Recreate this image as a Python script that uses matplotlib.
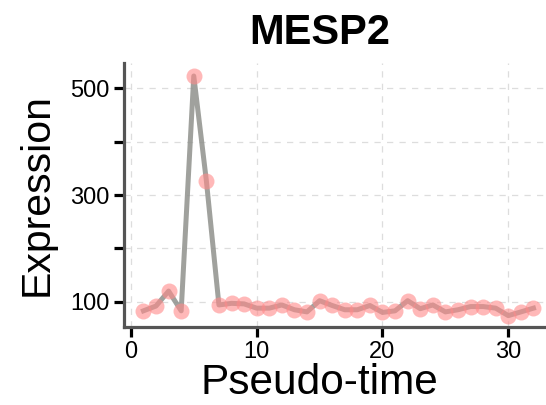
import numpy as np
import matplotlib
matplotlib.use("Agg")
import matplotlib.pyplot as plt
from matplotlib.ticker import MultipleLocator

plt.rcParams['font.family'] = ['Liberation Sans', 'DejaVu Sans']

# pseudo-time points and expression values
pseudo_time = list(range(1, 33))
expression = [83, 92, 120, 83, 523, 327, 94, 97, 96, 88,
              88, 94, 85, 81, 102, 93, 85, 85, 93, 80,
              83, 102, 87, 94, 81, 85, 91, 91, 88, 74,
              81, 88]
gene = 'MESP2'

fig = plt.figure(figsize=(5.46, 4.05), dpi=100)
ax = fig.add_axes([0.227, 0.193, 0.78, 0.651])

ax.plot(pseudo_time, expression, color='#8f918c', alpha=0.85, lw=3.6, zorder=2)
ax.plot(pseudo_time, expression, 'o', color='#ff8a8a', alpha=0.6,
        markersize=11.5, markeredgewidth=0, zorder=3, clip_on=False)

ax.set_xlim(-0.55, 33.3)
ax.set_ylim(53, 547)
ax.xaxis.set_major_locator(MultipleLocator(10))
ax.yaxis.set_minor_locator(MultipleLocator(100))
ax.set_yticks([100, 300, 500])

ax.grid(True, which='major', axis='x', ls=(0, (5, 5)), color='#dddddd', lw=0.9)
ax.grid(True, which='both', axis='y', ls=(0, (5, 5)), color='#dddddd', lw=0.9)
ax.set_axisbelow(True)

for s in ['top', 'right']:
    ax.spines[s].set_visible(False)
for s in ['left', 'bottom']:
    ax.spines[s].set_color('#555555')
    ax.spines[s].set_linewidth(2.3)

ax.tick_params(which='both', direction='out', length=7.5, width=2.3, color='black',
               labelsize=17, pad=3)

ax.set_title(gene, fontsize=30, fontweight='bold', pad=14, x=0.46)
ax.set_xlabel('Pseudo-time', fontsize=30.5, labelpad=0, x=0.46)
ax.set_ylabel('Expression', fontsize=29.5, labelpad=10)

fig.savefig('out.png', dpi=100)
